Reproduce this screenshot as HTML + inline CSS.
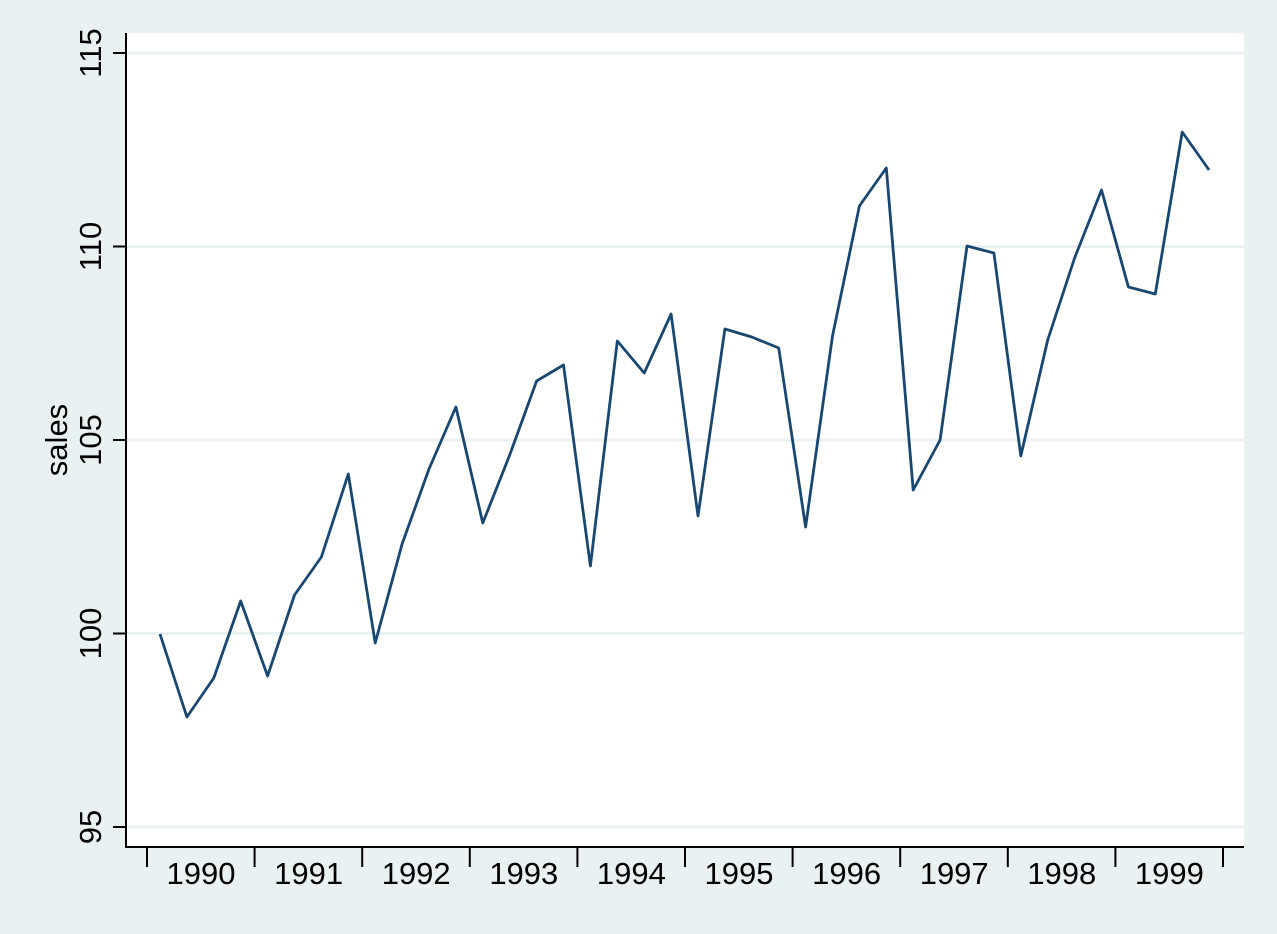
<!DOCTYPE html>
<html><head><style>body{margin:0;background:#eaf1f3}</style></head><body>
<svg width="1277" height="929" xmlns="http://www.w3.org/2000/svg" font-family="Liberation Sans, Arial, sans-serif">
<rect width="1277" height="929" fill="#eaf1f3"/>
<rect x="126" y="33" width="1118" height="814" fill="#fff"/>
<g stroke="#eaf1f3" stroke-width="3">
<line x1="127" x2="1244" y1="53" y2="53"/><line x1="127" x2="1244" y1="246.5" y2="246.5"/><line x1="127" x2="1244" y1="440" y2="440"/><line x1="127" x2="1244" y1="633.5" y2="633.5"/><line x1="127" x2="1244" y1="827" y2="827"/>
</g>
<g stroke="#000" stroke-width="2">
<line x1="126" y1="33" x2="126" y2="848"/><line x1="125" y1="847" x2="1244" y2="847"/>
<line x1="113" x2="126" y1="53" y2="53"/><line x1="113" x2="126" y1="246.5" y2="246.5"/><line x1="113" x2="126" y1="440" y2="440"/><line x1="113" x2="126" y1="633.5" y2="633.5"/><line x1="113" x2="126" y1="827" y2="827"/>
<path d="M147 847v20M254.6 847v20M362.2 847v20M469.8 847v20M577.4 847v20M685 847v20M792.6 847v20M900.2 847v20M1007.8 847v20M1115.4 847v20M1223 847v20"/>
</g>
<g font-size="31" text-anchor="middle" fill="#000">
<text transform="translate(101,53) rotate(-90)">115</text>
<text transform="translate(101,246.5) rotate(-90)">110</text>
<text transform="translate(101,440) rotate(-90)">105</text>
<text transform="translate(101,633.5) rotate(-90)">100</text>
<text transform="translate(101,827) rotate(-90)">95</text>
<text transform="translate(67,440) rotate(-90)">sales</text>
<text x="201" y="884">1990</text><text x="308.6" y="884">1991</text><text x="416.2" y="884">1992</text><text x="523.8" y="884">1993</text><text x="631.4" y="884">1994</text><text x="739" y="884">1995</text><text x="846.6" y="884">1996</text><text x="954.2" y="884">1997</text><text x="1061.8" y="884">1998</text><text x="1169.4" y="884">1999</text>
</g>
<polyline fill="none" stroke="#1a476f" stroke-width="2.8" stroke-linejoin="round" points="160,634 186.9,717 213.8,678 240.7,601 267.6,676 294.5,595 321.4,557 348.3,474 375.2,643 402.1,544 429,469 455.9,407 482.8,523 509.7,455 536.6,381 563.5,365 590.4,566 617.3,341 644.2,373 671.1,314 698,516 724.9,329 751.8,337 778.7,348 805.6,527 832.5,336 859.4,206 886.3,168 913.2,490 940.1,440 967,246 993.9,253 1020.8,456 1047.7,340 1074.6,258 1101.5,190 1128.4,287 1155.3,294 1182.2,132 1209.1,170"/>
</svg>
</body></html>
